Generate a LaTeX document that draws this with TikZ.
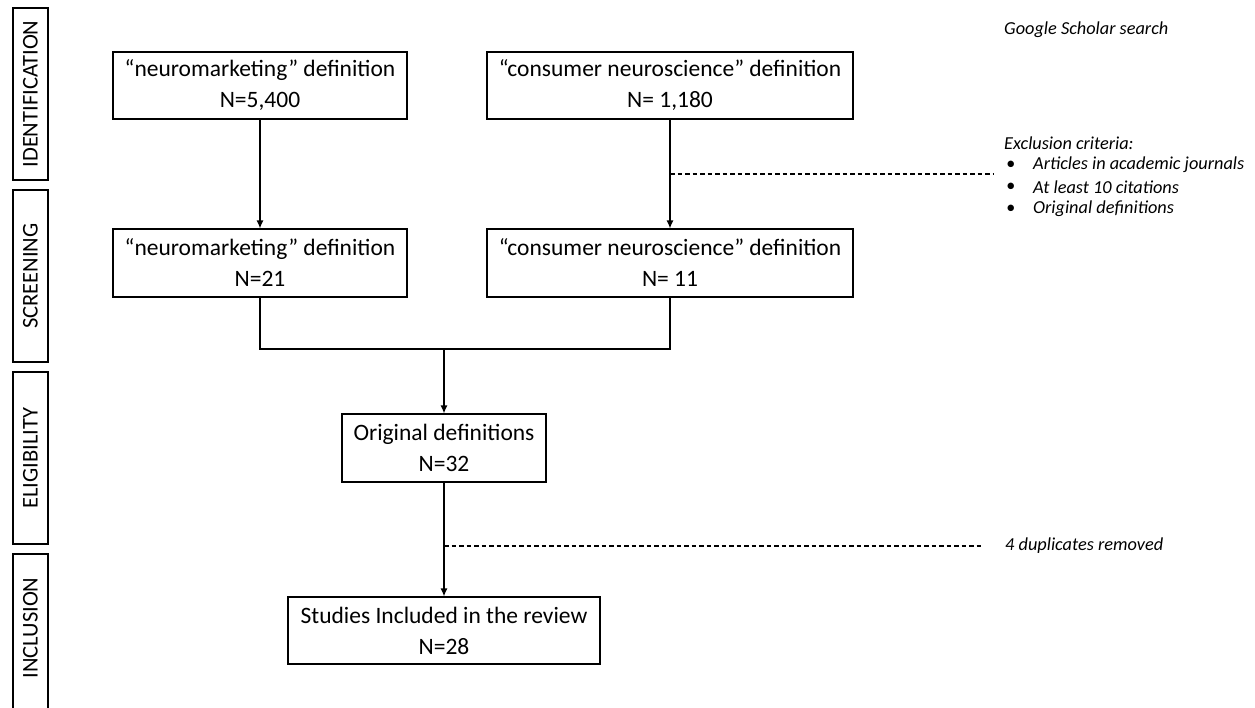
\documentclass[tikz,border=0pt]{standalone}
\usepackage{fontspec}
\setmainfont{Carlito}
\usetikzlibrary{arrows.meta}

\tikzset{
  box/.style={draw, line width=1.2pt, inner sep=0pt, align=center,
    font=\fontsize{23.5}{31}\selectfont},
  phase/.style={draw, line width=1.2pt, inner sep=0pt, rotate=90,
    minimum height=35pt, font=\fontsize{22.5}{27}\selectfont},
  flow/.style={line width=1.2pt, -{Latex[length=8pt,width=7pt]}},
  link/.style={line width=1.2pt},
  note/.style={anchor=west, inner sep=0pt, font=\fontsize{18.3}{22}\selectfont\itshape},
  guide/.style={line width=1.1pt, dash pattern=on 4.5pt off 3pt}
}

\begin{document}
\begin{tikzpicture}[x=1pt, y=-1pt]
\path[use as bounding box, clip] (0,0) rectangle (1255,707);

% phase labels on the left
\node[phase, minimum width=172pt] (lid)  at (30.5,94)  {IDENTIFICATION};
\node[phase, minimum width=172pt] (lscr) at (30.5,276) {SCREENING};
\node[phase, minimum width=172pt] (lel)  at (30.5,458) {ELIGIBILITY};
\node[phase, minimum width=180pt] (lin)  at (30.5,644) {};
\node[rotate=90, inner sep=0pt, font=\fontsize{22.5}{27}\selectfont] (tin) at (30.5,628) {INCLUSION};

% flow boxes
\node[box, minimum width=294pt, minimum height=67pt] (a) at (260,85.5)
  {“neuromarketing” definition\\N=5,400};
\node[box, minimum width=366pt, minimum height=67pt] (b) at (670,85.5)
  {“consumer neuroscience” definition\\N= 1,180};
\node[box, minimum width=294pt, minimum height=68pt] (c) at (260,263)
  {“neuromarketing” definition\\N=21};
\node[box, minimum width=366pt, minimum height=68pt] (d) at (670,263)
  {“consumer neuroscience” definition\\N= 11};
\node[box, minimum width=204pt, minimum height=68pt] (e) at (444,448)
  {Original definitions\\N=32};
\node[box, minimum width=312pt, minimum height=67pt] (f) at (444,630.5)
  {Studies Included in the review\\N=28};

% side notes
\node[note] (gs) at (1004,30) {Google Scholar search};
\node[note] (ex) at (1004,143) {Exclusion criteria:};
\node[note] (b1) at (1006,165) {•};
\node[note] (b2) at (1006,187) {•};
\node[note] (b3) at (1006,209) {•};
\node[note] (t1) at (1033,165) {Articles in academic journals};
\node[note] (t2) at (1033,187) {At least 10 citations};
\node[note] (t3) at (1033,209) {Original definitions};
\node[note] (dup) at (1005,546) {4 duplicates removed};

% connectors
\coordinate (join) at (444,349);
\coordinate (exend) at (993,174);
\coordinate (dupend) at (982,546);

\draw[flow] (a.south) -- (c.north);
\draw[flow] (b.south) -- (d.north);
\draw[link] (c.south) -- (c.south |- join) -- (d.south |- join) -- (d.south);
\draw[flow] (join) -- (e.north);
\draw[flow] (e.south) -- (f.north);

\draw[guide] (b.south |- exend) -- (exend);
\draw[guide] (e.south |- dupend) -- (dupend);
\end{tikzpicture}
\end{document}
